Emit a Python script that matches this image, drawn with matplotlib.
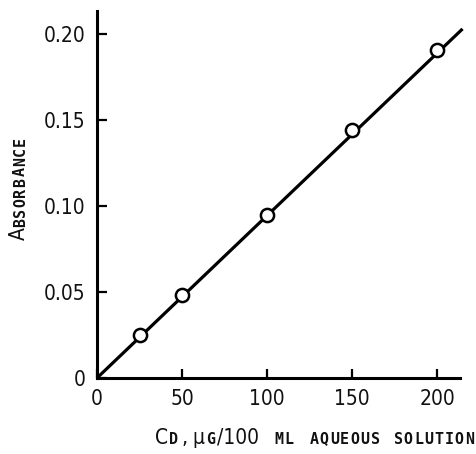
import numpy as np
import matplotlib
matplotlib.use('Agg')
import matplotlib.pyplot as plt

# calibration points
cd_ug = [25, 50, 100, 150, 200]
absorbance = [0.025, 0.048, 0.095, 0.144, 0.191]
# fitted calibration line through the origin
fit_x = [0, 215]
fit_y = [0, 0.203]

xticks = [0, 50, 100, 150, 200]
xtick_labels = ['0', '50', '100', '150', '200']
yticks = [0, 0.05, 0.10, 0.15, 0.20]
ytick_labels = ['0', '0.05', '0.10', '0.15', '0.20']

big = dict(family=['DejaVu Sans'], stretch='condensed', size=15, color='#111111')
small = dict(family=['DejaVu Sans Mono'], size=10.8, weight='bold', color='#111111')
PITCH = 10.2  # typewriter spacing of the small caps, px

W, H = 477, 454
fig = plt.figure(figsize=(W / 100, H / 100), dpi=100)
ax = fig.add_axes([97 / W, 1 - 378 / H, (460 - 97) / W, (378 - 11) / H])

ax.plot(fit_x, fit_y, color='black', lw=2.3, solid_capstyle='butt', zorder=2,
        clip_on=False)
ax.plot(cd_ug, absorbance, 'o', ms=9.5, mfc='white', mec='black', mew=1.8, zorder=3)

ax.set_xlim(0, 213.5)
ax.set_ylim(0, 0.2134)
for s in ['top', 'right']:
    ax.spines[s].set_visible(False)
for s in ['left', 'bottom']:
    ax.spines[s].set_linewidth(2.2)
ax.set_xticks(xticks)
ax.set_xticklabels(xtick_labels, fontdict=big)
ax.set_yticks(yticks)
ax.set_yticklabels(ytick_labels, fontdict=big)
ax.tick_params(axis='x', direction='in', length=6.5, width=1.6, pad=8)
ax.tick_params(axis='y', direction='in', length=7, width=1.6, pad=8.5)


def word(x, y, txt, props, vertical=False):
    # x, y in px from the left / bottom; small caps are set letter by letter
    if props is big:
        fig.text(x / W, y / H, txt, ha='left', va='baseline',
                 rotation=90 if vertical else 0, rotation_mode='anchor', **props)
        return
    for i, ch in enumerate(txt):
        off = (i + 0.5) * PITCH
        if vertical:
            fig.text(x / W, (y + off) / H, ch, ha='center', va='baseline',
                     rotation=90, rotation_mode='anchor', **props)
        else:
            fig.text((x + off) / W, y / H, ch, ha='center', va='baseline', **props)


# x label: "CD, µG/100 ML AQUEOUS SOLUTION" in small caps
base = 10.5
word(155, base, 'C', big)
word(168, base, 'D', small)
word(182, base, ',', big)
word(192, base, '\u00b5', big)
word(205.5, base, 'G', small)
word(217, base, '/100', big)
word(274, base, 'ML', small)
word(309, base, 'AQUEOUS', small)
word(393, base, 'SOLUTION', small)

# y label: "ABSORBANCE", rotated, reading upwards
word(25, H - 240, 'A', big, vertical=True)
word(25, H - 228, 'BSORBANCE', small, vertical=True)

fig.savefig('out.png', dpi=100)
